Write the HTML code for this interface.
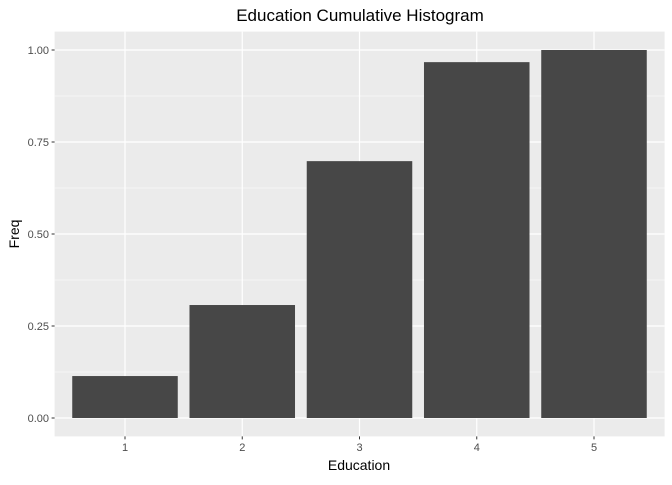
<!DOCTYPE html>
<html><head><meta charset="utf-8"><style>
body{margin:0;background:#fff;font-family:"Liberation Sans",sans-serif;}
</style></head><body>
<svg id="chart" width="672" height="480" xmlns="http://www.w3.org/2000/svg">
<text x="360" y="21" text-anchor="middle" font-size="17" fill="#000">Education Cumulative Histogram</text>
<rect x="54.6" y="31.6" width="610" height="404.8" fill="#ebebeb"/>
<g id="grid"></g><g id="bars"></g><g id="axes"></g>
<text x="359" y="470" text-anchor="middle" font-size="14" fill="#000">Education</text>
<text transform="translate(19,234) rotate(-90)" text-anchor="middle" font-size="14" fill="#000">Freq</text>
</svg>
<script>
const categories=["1","2","3","4","5"];
const freqValues=[0.114,0.307,0.698,0.967,1.0];
const yTicks=[0,0.25,0.5,0.75,1.0];
const yTickLabels=["0.00","0.25","0.50","0.75","1.00"];
const NS="http://www.w3.org/2000/svg";
const x0=125,step=117.25;
function xs(i){return x0+i*step;}
function ys(v){return 418-v*368;}
function mk(tag,attrs,parent){const e=document.createElementNS(NS,tag);for(const k in attrs)e.setAttribute(k,attrs[k]);parent.appendChild(e);return e;}
const grid=document.getElementById('grid'),bars=document.getElementById('bars'),axes=document.getElementById('axes');
for(let i=0;i<yTicks.length-1;i++){
  const y=ys((yTicks[i]+yTicks[i+1])/2);
  const l=mk('line',{x1:54.6,x2:664.6,y1:y,y2:y,stroke:'#fff','stroke-width':0.6},grid);
  
  
}
yTicks.forEach((t,i)=>{
  const y=ys(t);
  const l=mk('line',{x1:54.6,x2:664.6,y1:y,y2:y,stroke:'#fff','stroke-width':1.2},grid);
  
  
  const tk=mk('line',{x1:51.6,x2:54.6,y1:y,y2:y,stroke:'#333','stroke-width':1},axes);
  
  
  const tx=mk('text',{x:49,y:y+4,'text-anchor':'end','font-size':11,fill:'#4d4d4d'},axes);
  tx.textContent=yTickLabels[i];
  
  
});
categories.forEach((c,i)=>{
  const x=xs(i);
  const l=mk('line',{x1:x,x2:x,y1:31.6,y2:436.4,stroke:'#fff','stroke-width':1.2},grid);
  
  
  const w=step*0.9;
  const b=mk('rect',{x:x-w/2,y:ys(freqValues[i]),width:w,height:ys(0)-ys(freqValues[i]),fill:'#474747'},bars);
  
  
  const tk=mk('line',{x1:x,x2:x,y1:436.4,y2:439.4,stroke:'#333','stroke-width':1},axes);
  
  
  const tx=mk('text',{x:x,y:451,'text-anchor':'middle','font-size':11,fill:'#4d4d4d'},axes);
  tx.textContent=c;
  
  
});
</script>
</body></html>
